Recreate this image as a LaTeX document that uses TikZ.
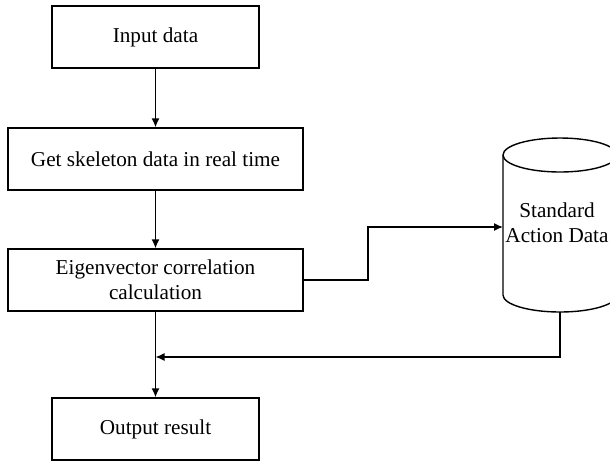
\documentclass[tikz,border=0pt]{standalone}
\usepackage{fontspec}
\setmainfont{Liberation Serif}
\usepackage{tikz}
\usetikzlibrary{
    arrows.meta,
	calc,
	positioning
}

\begin{document}
\begin{tikzpicture}[x = 0.5pt, y = -0.5pt, line width = 0.7pt,
	box/.style = {draw, rectangle, align = center, minimum height = 31pt, inner sep = 0pt, font = \fontsize{10.6}{12.6}\selectfont},
	flow/.style = {-{Latex[length = 4.5pt, width = 4pt]}}]
	\useasboundingbox (0,0) rectangle (610,462);
	
	\node (input) at (155.5, 37) [box, minimum width = 103.5pt] {Input data};
	\node (skeleton) at (155.5, 159) [box, minimum width = 147.5pt] {Get skeleton data in real time};
	\node (eigen) at (155.5, 280) [box, minimum width = 147.5pt] {Eigenvector correlation\\calculation};
	\node (output) at (155.5, 429) [box, minimum width = 103.5pt] {Output result};
	
	% database cylinder
	\draw (503,155) -- (503,295) arc[start angle = 180, end angle = 0, x radius = 57, y radius = 17] -- (617,155);
	\draw (560,155) ellipse [x radius = 57, y radius = 17];
	\node (db) at (557, 223) [align = center, font = \fontsize{10.6}{12.6}\selectfont] {Standard\\Action Data};
	\coordinate (dbin) at (503, 227);
	\coordinate (dbout) at (560, 312);
	\coordinate (merge) at (155.5, 357);
	
	\draw[flow] (input) -- (skeleton);
	\draw[flow] (skeleton) -- (eigen);
	\draw[flow] (eigen.east) -- (368, 280) |- (dbin);
	\draw (eigen) -- (merge);
	\draw[flow] (merge) -- (output);
	\draw[flow] (dbout) |- (merge);
	
\end{tikzpicture}
\end{document}
